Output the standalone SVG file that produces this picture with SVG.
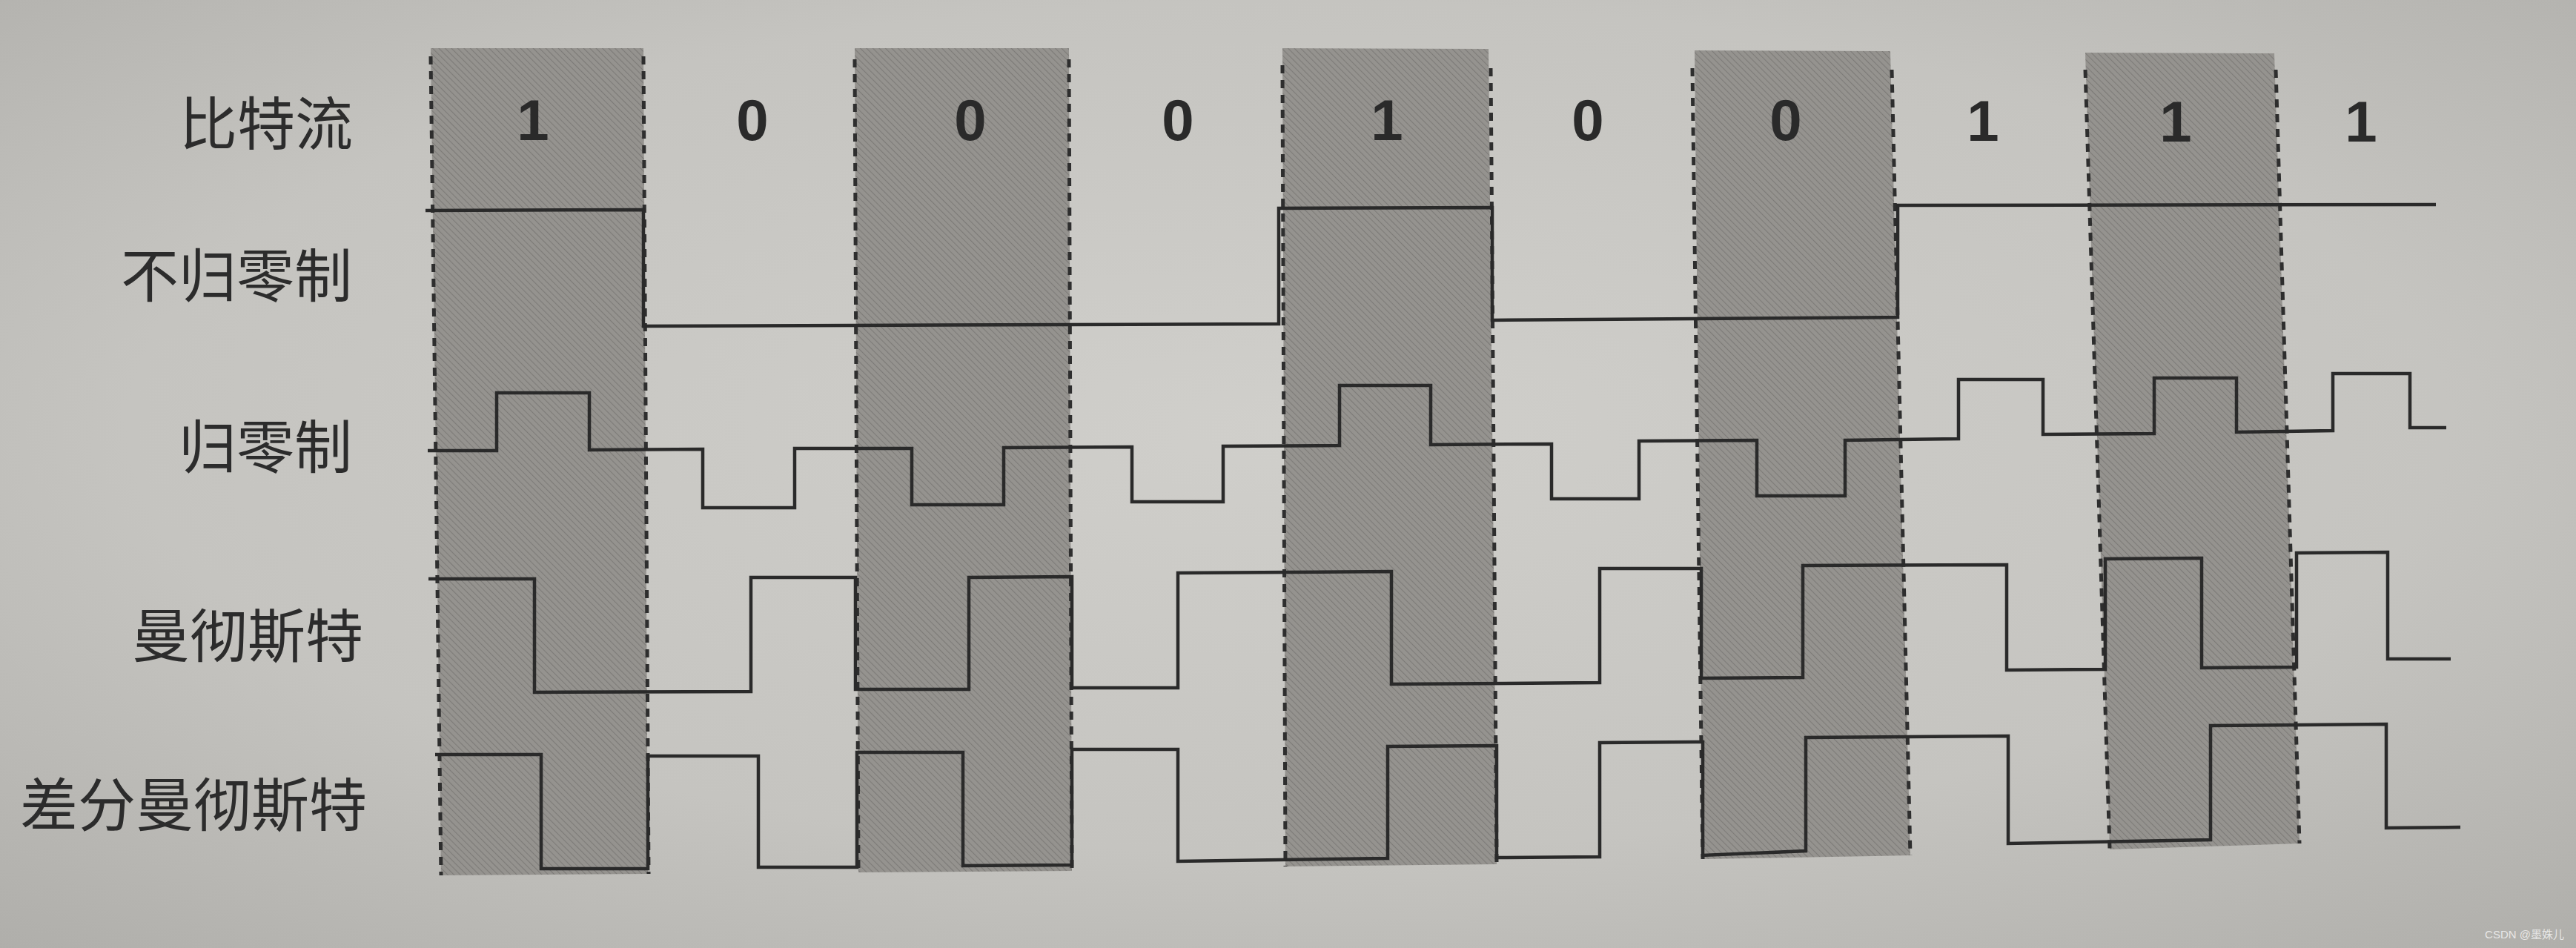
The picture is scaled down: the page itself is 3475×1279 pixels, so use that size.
<svg xmlns="http://www.w3.org/2000/svg" width="3475" height="1279" viewBox="0 0 3475 1279">
<style>
.lbl{font-family:"Noto Sans CJK SC","Noto Sans",sans-serif;font-size:78px;fill:#2c2c2c;text-anchor:end}
.bit{font-family:"Liberation Sans",Arial,sans-serif;font-weight:bold;font-size:78px;fill:#2a2a2a;text-anchor:middle}
.wave{fill:none;stroke:#2a2a2a;stroke-width:4.5;stroke-linejoin:miter}
.grid{stroke:#2e2e2e;stroke-width:5;stroke-dasharray:11 9;fill:none}
.shade{fill:url(#hatch)}
</style>
<defs>
<radialGradient id="paper" cx="50%" cy="45%" r="75%">
<stop offset="0" stop-color="#d0cfcb"/>
<stop offset="0.6" stop-color="#c5c4c0"/>
<stop offset="1" stop-color="#afaeaa"/>
</radialGradient>
<pattern id="hatch" patternUnits="userSpaceOnUse" width="6" height="6" patternTransform="rotate(-45)">
<rect width="6" height="6" fill="#95938f"/>
<line x1="0" y1="0" x2="0" y2="6" stroke="#7d7b78" stroke-width="2.2"/>
</pattern>
</defs>
<rect id="paper-bg" x="0" y="0" width="3475" height="1279" fill="url(#paper)"/>

<g id="shaded-columns">
<polygon class="shade" points="581,65 868,65 874,1179 595,1181"/>
<polygon class="shade" points="1153,65 1442,65 1446,1175 1158,1177"/>
<polygon class="shade" points="1730,65 2008,66 2019,1166 1734,1169"/>
<polygon class="shade" points="2286,68 2550,69 2577,1154 2297,1159"/>
<polygon class="shade" points="2813,71 3068,72 3102,1138 2846,1146"/>
</g>

<g id="bit-boundaries">
<line class="grid" x1="581" y1="76" x2="595" y2="1181"/>
<line class="grid" x1="868" y1="76" x2="875" y2="1179"/>
<line class="grid" x1="1153" y1="80" x2="1158" y2="1177"/>
<line class="grid" x1="1442" y1="80" x2="1446" y2="1175"/>
<line class="grid" x1="1730" y1="88" x2="1734" y2="1169"/>
<line class="grid" x1="2011" y1="92" x2="2019" y2="1166"/>
<line class="grid" x1="2283" y1="92" x2="2297" y2="1159"/>
<line class="grid" x1="2552" y1="94" x2="2577" y2="1154"/>
<line class="grid" x1="2813" y1="94" x2="2846" y2="1146"/>
<line class="grid" x1="3070" y1="94" x2="3102" y2="1138"/>
</g>

<g id="row-labels">
<g id="label-bitstream"><text class="lbl" x="476" y="196">比特流</text></g>
<g id="label-nrz"><text class="lbl" x="475" y="401">不归零制</text></g>
<g id="label-rz"><text class="lbl" x="475" y="632">归零制</text></g>
<g id="label-manchester"><text class="lbl" x="490" y="887">曼彻斯特</text></g>
<g id="label-diff-manchester"><text class="lbl" x="495" y="1115">差分曼彻斯特</text></g>
</g>

<g id="bit-values">
<text class="bit" x="719" y="189">1</text>
<text class="bit" x="1015" y="189">0</text>
<text class="bit" x="1309" y="189">0</text>
<text class="bit" x="1589" y="189">0</text>
<text class="bit" x="1871" y="189">1</text>
<text class="bit" x="2142" y="189">0</text>
<text class="bit" x="2409" y="189">0</text>
<text class="bit" x="2675" y="190">1</text>
<text class="bit" x="2935" y="191">1</text>
<text class="bit" x="3185" y="191">1</text>
</g>

<g id="waveforms">
<polyline id="nrz" class="wave" points="574,284 868,283 868,440 1153,439 1725,437 1725,281 2013,280 2013,432 2560,428 2560,277 3286,276"/>
<polyline id="rz" class="wave" points="577,608 670,608 670,530 795,530 795,607 948,606 948,685 1072,685 1072,605 1230,605 1230,681 1354,681 1354,604 1527,603 1527,677 1650,677 1650,602 1807,601 1807,520 1930,520 1930,600 2093,599 2093,673 2211,673 2211,595 2370,594 2370,669 2489,669 2489,594 2642,592 2642,512 2756,512 2756,586 2906,585 2906,510 3017,510 3017,583 3147,581 3147,504 3251,504 3251,577 3300,577"/>
<polyline id="manchester" class="wave" points="578,781 721,781 721,934 1013,933 1013,779 1154,779 1154,930 1307,930 1307,779 1446,778 1446,928 1589,928 1589,773 1877,771 1877,923 2158,921 2158,767 2295,767 2295,915 2432,914 2432,763 2707,762 2707,904 2840,903 2840,754 2970,753 2970,901 3098,900 3098,746 3221,745 3221,889 3306,889"/>
<polyline id="diff-manchester" class="wave" points="587,1018 730,1018 730,1172 874,1172 874,1020 1023,1020 1023,1170 1156,1170 1156,1015 1299,1015 1299,1168 1446,1167 1446,1011 1589,1011 1589,1162 1872,1158 1872,1007 2019,1006 2019,1157 2158,1156 2158,1002 2297,1001 2297,1154 2436,1148 2436,995 2709,993 2709,1138 2982,1133 2982,979 3219,977 3219,1117 3319,1116"/>
</g>

<text id="watermark" x="3459" y="1266" font-family="'Liberation Sans','Noto Sans CJK SC',sans-serif" font-size="15" fill="#f2f2f2" fill-opacity="0.85" text-anchor="end">CSDN @墨姝儿</text>
</svg>
